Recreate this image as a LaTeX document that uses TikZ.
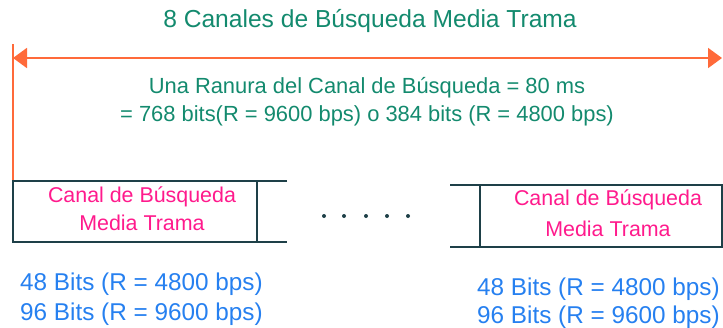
\documentclass[tikz,border=0pt]{standalone}
\usepackage{fontspec}
\setmainfont{Liberation Sans}
\usetikzlibrary{arrows.meta}
\definecolor{tealtxt}{HTML}{138A6E}
\definecolor{pinktxt}{HTML}{FF1A8C}
\definecolor{bluetxt}{HTML}{2680F0}
\definecolor{boxline}{HTML}{1E4048}
\definecolor{arrowc}{HTML}{FF6A3A}
\tikzset{
  title/.style={text=tealtxt, font=\fontsize{24.6}{28}\selectfont, inner sep=0},
  info/.style={text=tealtxt, font=\fontsize{21.9}{25}\selectfont, inner sep=0},
  boxtxt/.style={text=pinktxt, font=\fontsize{21.4}{25}\selectfont, inner sep=0},
  bits/.style={text=bluetxt, font=\fontsize{24.3}{28}\selectfont, inner sep=0, anchor=west},
  frame/.style={draw=boxline, line width=2.6pt},
  dim/.style={draw=arrowc, line width=2pt, {Triangle[length=14pt,width=20pt]}-{Triangle[length=14pt,width=20pt]}},
  dotm/.style={circle, fill=boxline, inner sep=0, minimum size=4pt}
}
\begin{document}
\begin{tikzpicture}[x=1pt,y=-1pt]
\useasboundingbox (0,0) rectangle (723,327);
% title
\node[title] (t) at (370,21) {8 Canales de Búsqueda Media Trama};
% dimension arrow
\coordinate (al) at (13,58);
\coordinate (ar) at (722,58);
\draw[dim] (al) -- (ar);
\coordinate (vt) at (13,44);
\coordinate (vb) at (13,181);
\draw[draw=arrowc, line width=1.6pt] (vt) -- (vb);
% info
\node[info] (i1) at (367,88) {Una Ranura del Canal de Búsqueda = 80 ms};
\node[info] (i2) at (367,116) {= 768 bits(R = 9600 bps) o 384 bits (R = 4800 bps)};
% left box
\coordinate (l1) at (13,181);
\coordinate (l2) at (287,181);
\coordinate (l3) at (13,242);
\coordinate (l4) at (287,242);
\coordinate (l5) at (257,181);
\coordinate (l6) at (257,242);
\draw[frame] (l2) -- (l1) -- (l3) -- (l4);
\draw[frame] (l5) -- (l6);
\node[boxtxt] (b1a) at (142,197) {Canal de Búsqueda};
\node[boxtxt] (b1b) at (142,223) {Media Trama};
% dots
\foreach \x [count=\i] in {324,344,366,387,408} \node[dotm] (d\i) at (\x,216) {};
% right box
\coordinate (r1) at (450,185);
\coordinate (r2) at (722,185);
\coordinate (r3) at (450,247);
\coordinate (r4) at (722,247);
\coordinate (r5) at (480,185);
\coordinate (r6) at (480,247);
\draw[frame] (r1) -- (r2) -- (r4) -- (r3);
\draw[frame] (r5) -- (r6);
\node[boxtxt] (b2a) at (608,200) {Canal de Búsqueda};
\node[boxtxt] (b2b) at (608,229) {Media Trama};
% bits
\node[bits] (bl1) at (20,284) {48 Bits (R = 4800 bps)};
\node[bits] (bl2) at (20,314) {96 Bits (R = 9600 bps)};
\node[bits] (br1) at (477,289) {48 Bits (R = 4800 bps)};
\node[bits] (br2) at (477,317) {96 Bits (R = 9600 bps)};
\end{tikzpicture}
\end{document}
